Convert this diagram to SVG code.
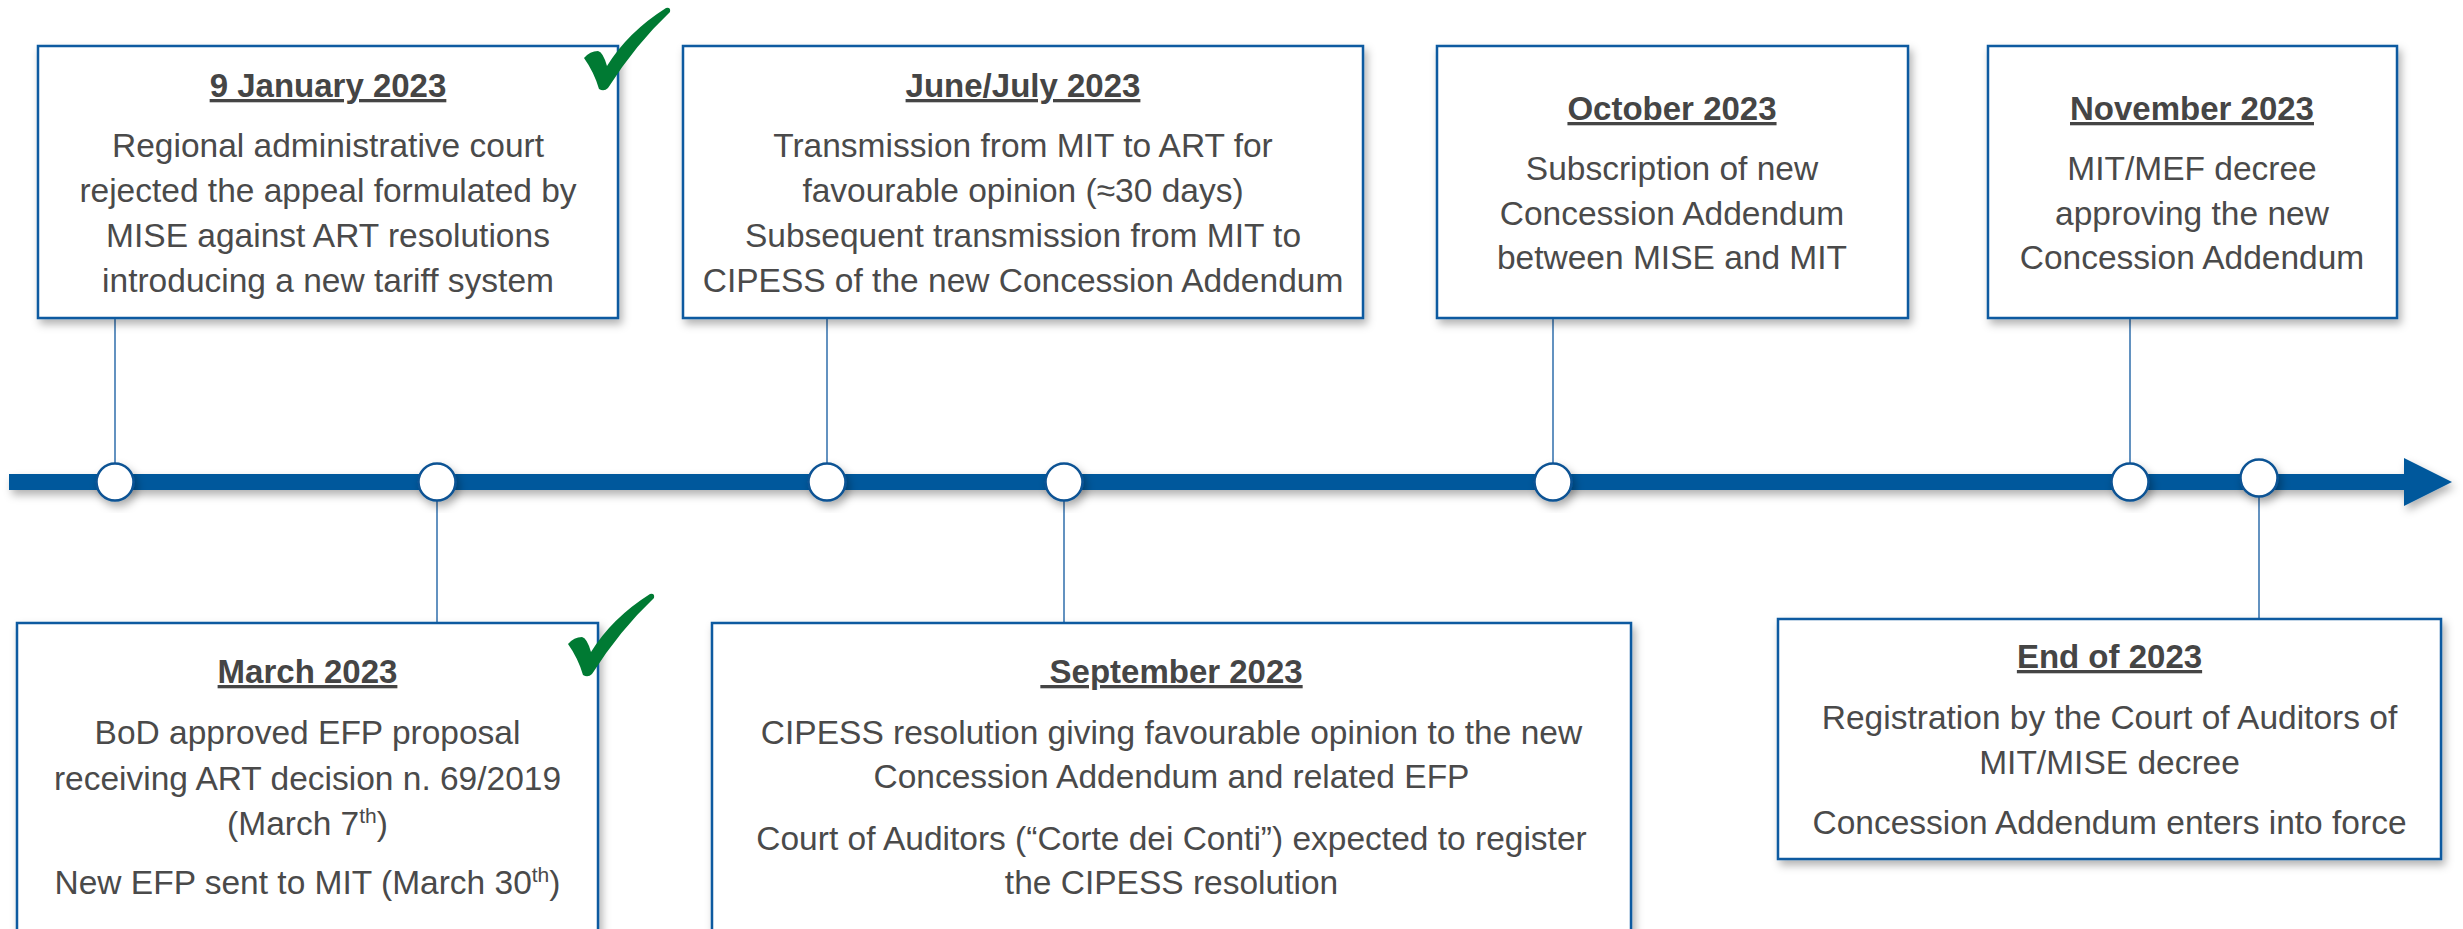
<svg xmlns="http://www.w3.org/2000/svg" xmlns:xlink="http://www.w3.org/1999/xlink" width="2463" height="929" viewBox="0 0 2463 929">
<style>
.box{fill:#fff;stroke:#0E5AA0;stroke-width:2.5;}
.t{font-family:"Liberation Sans",Arial,sans-serif;font-size:33.5px;fill:#4a4a4a;text-anchor:middle;}
.h{font-family:"Liberation Sans",Arial,sans-serif;font-size:33px;font-weight:bold;fill:#454545;text-anchor:middle;text-decoration:underline;}
.sup{font-size:21px;}
.con{stroke:#2F6EAB;stroke-width:1.5;fill:none;}
.dot{fill:#fff;stroke:#0B5394;stroke-width:2.5;}
.chk{fill:#007A33;}
</style>
<defs>
<filter id="sh" x="-10%" y="-10%" width="130%" height="140%">
<feDropShadow dx="3" dy="5" stdDeviation="4" flood-color="#000" flood-opacity="0.3"/>
</filter>
<path id="check" d="M584 58 Q590 51 598 51 Q603 52 607 66 Q628 32 666 8 Q671 7 670 12 Q636 44 608 88 Q604 92 599 89 Q594 72 584 58 Z"/>
</defs>

<g id="timeline" filter="url(#sh)">
<rect x="9" y="474" width="2397" height="16" fill="#03599C"/>
<polygon points="2404,458 2452,482 2404,506" fill="#03599C"/>
</g>

<g id="connectors">
<line class="con" x1="115" y1="318" x2="115" y2="464"/>
<line class="con" x1="827" y1="318" x2="827" y2="464"/>
<line class="con" x1="1553" y1="318" x2="1553" y2="464"/>
<line class="con" x1="2130" y1="318" x2="2130" y2="464"/>
<line class="con" x1="437" y1="500" x2="437" y2="623"/>
<line class="con" x1="1064" y1="500" x2="1064" y2="623"/>
<line class="con" x1="2259" y1="496" x2="2259" y2="619"/>
</g>

<g id="dots" filter="url(#sh)">
<circle class="dot" cx="115" cy="482" r="18.5"/>
<circle class="dot" cx="437" cy="482" r="18.5"/>
<circle class="dot" cx="827" cy="482" r="18.5"/>
<circle class="dot" cx="1064" cy="482" r="18.5"/>
<circle class="dot" cx="1553" cy="482" r="18.5"/>
<circle class="dot" cx="2130" cy="482" r="18.5"/>
<circle class="dot" cx="2259" cy="478" r="18.5"/>
</g>

<g id="node-jan">
<rect class="box" x="38" y="46" width="580" height="272" filter="url(#sh)"/>
<text class="h" x="328" y="97">9 January 2023</text>
<text class="t" x="328" y="157">Regional administrative court</text>
<text class="t" x="328" y="202">rejected the appeal formulated by</text>
<text class="t" x="328" y="247">MISE against ART resolutions</text>
<text class="t" x="328" y="292">introducing a new tariff system</text>
<use xlink:href="#check" class="chk"/>
</g>

<g id="node-junjul">
<rect class="box" x="683" y="46" width="680" height="272" filter="url(#sh)"/>
<text class="h" x="1023" y="97">June/July 2023</text>
<text class="t" x="1023" y="157">Transmission from MIT to ART for</text>
<text class="t" x="1023" y="202">favourable opinion (≈30 days)</text>
<text class="t" x="1023" y="247">Subsequent transmission from MIT to</text>
<text class="t" x="1023" y="292">CIPESS of the new Concession Addendum</text>
</g>

<g id="node-oct">
<rect class="box" x="1437" y="46" width="471" height="272" filter="url(#sh)"/>
<text class="h" x="1672" y="120">October 2023</text>
<text class="t" x="1672" y="180">Subscription of new</text>
<text class="t" x="1672" y="225">Concession Addendum</text>
<text class="t" x="1672" y="269">between MISE and MIT</text>
</g>

<g id="node-nov">
<rect class="box" x="1988" y="46" width="409" height="272" filter="url(#sh)"/>
<text class="h" x="2192" y="120">November 2023</text>
<text class="t" x="2192" y="180">MIT/MEF decree</text>
<text class="t" x="2192" y="225">approving the new</text>
<text class="t" x="2192" y="269">Concession Addendum</text>
</g>

<g id="node-mar">
<rect class="box" x="17" y="623" width="581" height="340" filter="url(#sh)"/>
<text class="h" x="307.5" y="683">March 2023</text>
<text class="t" x="307.5" y="744">BoD approved EFP proposal</text>
<text class="t" x="307.5" y="790">receiving ART decision n. 69/2019</text>
<text class="t" x="307.5" y="835">(March 7<tspan class="sup" dy="-12">th</tspan><tspan dy="12">)</tspan></text>
<text class="t" x="307.5" y="894">New EFP sent to MIT (March 30<tspan class="sup" dy="-12">th</tspan><tspan dy="12">)</tspan></text>
<use xlink:href="#check" class="chk" transform="translate(-16,586)"/>
</g>

<g id="node-sep">
<rect class="box" x="712" y="623" width="919" height="340" filter="url(#sh)"/>
<text class="h" x="1171.5" y="683">&#160;September 2023</text>
<text class="t" x="1171.5" y="744">CIPESS resolution giving favourable opinion to the new</text>
<text class="t" x="1171.5" y="788">Concession Addendum and related EFP</text>
<text class="t" x="1171.5" y="850">Court of Auditors (“Corte dei Conti”) expected to register</text>
<text class="t" x="1171.5" y="894">the CIPESS resolution</text>
</g>

<g id="node-end">
<rect class="box" x="1778" y="619" width="663" height="240" filter="url(#sh)"/>
<text class="h" x="2109.5" y="668">End of 2023</text>
<text class="t" x="2109.5" y="729">Registration by the Court of Auditors of</text>
<text class="t" x="2109.5" y="774">MIT/MISE decree</text>
<text class="t" x="2109.5" y="834">Concession Addendum enters into force</text>
</g>
</svg>
